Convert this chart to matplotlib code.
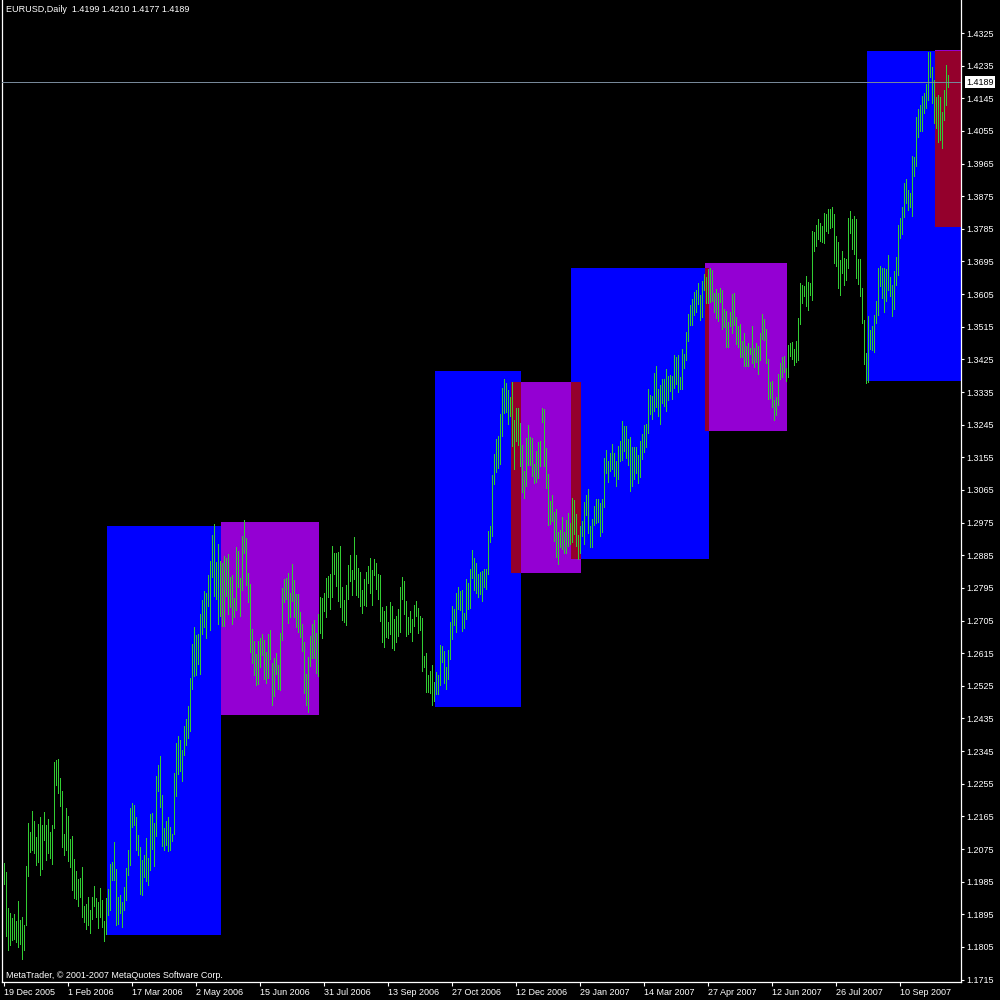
import numpy as np
import matplotlib
matplotlib.use('Agg')
import matplotlib.pyplot as plt
from matplotlib.patches import Rectangle
from matplotlib.transforms import blended_transform_factory

plt.rcParams['font.family'] = ['Liberation Sans', 'DejaVu Sans']

title = 'EURUSD,Daily  1.4199 1.4210 1.4177 1.4189'
copyright_text = 'MetaTrader, © 2001-2007 MetaQuotes Software Corp.'
last_price = 1.4189

# daily highs / lows, one per bar
highs = [
    1.2036, 1.2012, 1.1913, 1.1899, 1.1885, 1.1896, 1.1877, 1.1932, 1.1880, 1.1888,
    1.1866, 1.2029, 1.2147, 1.2122, 1.2180, 1.2153, 1.2109, 1.2144, 1.2164, 1.2142,
    1.2177, 1.2142, 1.2158, 1.2122, 1.2142, 1.2315, 1.2321, 1.2324, 1.2271, 1.2235,
    1.2117, 1.2189, 1.2166, 1.2103, 1.2111, 1.2048, 1.2015, 1.1993, 1.1996, 1.2026,
    1.1918, 1.1924, 1.1943, 1.1907, 1.1943, 1.1973, 1.1940, 1.1929, 1.1968, 1.1935,
    1.1877, 1.1940, 1.1965, 1.2034, 1.2040, 1.2095, 1.2020, 1.1943, 1.1949, 1.1929,
    1.1971, 1.2023, 1.2073, 1.2189, 1.2202, 1.2197, 1.2164, 1.2114, 1.2081, 1.2045,
    1.2059, 1.2106, 1.2051, 1.2172, 1.2175, 1.2147, 1.2277, 1.2307, 1.2332, 1.2224,
    1.2133, 1.2153, 1.2164, 1.2136, 1.2117, 1.2285, 1.2368, 1.2387, 1.2376, 1.2348,
    1.2415, 1.2434, 1.2470, 1.2547, 1.2641, 1.2688, 1.2665, 1.2668, 1.2723, 1.2762,
    1.2787, 1.2781, 1.2831, 1.2869, 1.2941, 1.2971, 1.2866, 1.2916, 1.2869, 1.2864,
    1.2883, 1.2878, 1.2889, 1.2825, 1.2831, 1.2767, 1.2908, 1.2897, 1.2823, 1.2938,
    1.2982, 1.2933, 1.2836, 1.2806, 1.2682, 1.2649, 1.2613, 1.2649, 1.2657, 1.2668,
    1.2652, 1.2618, 1.2668, 1.2679, 1.2588, 1.2602, 1.2616, 1.2583, 1.2671, 1.2795,
    1.2820, 1.2823, 1.2836, 1.2781, 1.2861, 1.2817, 1.2778, 1.2778, 1.2729, 1.2696,
    1.2646, 1.2558, 1.2605, 1.2663, 1.2696, 1.2707, 1.2671, 1.2723, 1.2770, 1.2767,
    1.2781, 1.2823, 1.2828, 1.2834, 1.2911, 1.2891, 1.2891, 1.2894, 1.2911, 1.2798,
    1.2762, 1.2803, 1.2858, 1.2886, 1.2845, 1.2935, 1.2886, 1.2850, 1.2839, 1.2789,
    1.2820, 1.2839, 1.2856, 1.2878, 1.2845, 1.2875, 1.2864, 1.2834, 1.2831, 1.2742,
    1.2731, 1.2745, 1.2701, 1.2756, 1.2745, 1.2710, 1.2718, 1.2737, 1.2798, 1.2825,
    1.2814, 1.2759, 1.2715, 1.2731, 1.2710, 1.2748, 1.2759, 1.2740, 1.2718, 1.2712,
    1.2607, 1.2616, 1.2555, 1.2566, 1.2583, 1.2536, 1.2563, 1.2555, 1.2638, 1.2635,
    1.2621, 1.2577, 1.2624, 1.2701, 1.2745, 1.2737, 1.2781, 1.2798, 1.2787, 1.2789,
    1.2726, 1.2820, 1.2809, 1.2847, 1.2900, 1.2878, 1.2864, 1.2834, 1.2839, 1.2842,
    1.2847, 1.2847, 1.2952, 1.2966, 1.3107, 1.3164, 1.3206, 1.3214, 1.3275, 1.3346,
    1.3371, 1.3360, 1.3341, 1.3322, 1.3363, 1.3258, 1.3291, 1.3291, 1.3250, 1.3189,
    1.3117, 1.3208, 1.3244, 1.3211, 1.3208, 1.3137, 1.3173, 1.3197, 1.3200, 1.3291,
    1.3288, 1.3181, 1.3109, 1.3035, 1.3051, 1.3005, 1.3013, 1.2950, 1.2955, 1.2991,
    1.2950, 1.2982, 1.3002, 1.2974, 1.3043, 1.3038, 1.2999, 1.2941, 1.2966, 1.2980,
    1.3032, 1.3051, 1.3068, 1.2966, 1.2985, 1.3021, 1.3040, 1.3040, 1.3029, 1.3040,
    1.3153, 1.3175, 1.3145, 1.3167, 1.3192, 1.3167, 1.3145, 1.3186, 1.3200, 1.3255,
    1.3242, 1.3242, 1.3206, 1.3211, 1.3184, 1.3184, 1.3184, 1.3162, 1.3200, 1.3220,
    1.3245, 1.3247, 1.3344, 1.3327, 1.3324, 1.3388, 1.3407, 1.3344, 1.3355, 1.3371,
    1.3371, 1.3399, 1.3380, 1.3382, 1.3380, 1.3437, 1.3432, 1.3437, 1.3377, 1.3454,
    1.3440, 1.3501, 1.3550, 1.3575, 1.3591, 1.3611, 1.3617, 1.3636, 1.3603, 1.3641,
    1.3661, 1.3652, 1.3674, 1.3677, 1.3672, 1.3608, 1.3619, 1.3608, 1.3622, 1.3617,
    1.3564, 1.3559, 1.3528, 1.3556, 1.3605, 1.3608, 1.3542, 1.3517, 1.3523, 1.3476,
    1.3498, 1.3462, 1.3470, 1.3457, 1.3517, 1.3457, 1.3470, 1.3462, 1.3498, 1.3550,
    1.3536, 1.3509, 1.3426, 1.3363, 1.3366, 1.3313, 1.3321, 1.3385, 1.3415, 1.3432,
    1.3435, 1.3401, 1.3465, 1.3470, 1.3473, 1.3454, 1.3476, 1.3540, 1.3636, 1.3630,
    1.3627, 1.3655, 1.3638, 1.3636, 1.3779, 1.3776, 1.3796, 1.3812, 1.3801, 1.3793,
    1.3829, 1.3826, 1.3840, 1.3840, 1.3845, 1.3826, 1.3765, 1.3749, 1.3699, 1.3724,
    1.3705, 1.3702, 1.3815, 1.3834, 1.3812, 1.3821, 1.3812, 1.3702, 1.3702, 1.3622,
    1.3534, 1.3443, 1.3545, 1.3506, 1.3517, 1.3548, 1.3586, 1.3677, 1.3683, 1.3677,
    1.3677, 1.3675, 1.3713, 1.3653, 1.3630, 1.3669, 1.3708, 1.3796, 1.3815, 1.3845,
    1.3912, 1.3923, 1.3892, 1.3884, 1.3986, 1.3983, 1.4094, 1.4116, 1.4127, 1.4152,
    1.4160, 1.4185, 1.4273, 1.4273, 1.4232, 1.4196, 1.4149, 1.4154, 1.4149, 1.4107,
    1.4168, 1.4237, 1.4210,
]
lows = [
    1.1979, 1.1836, 1.1797, 1.1811, 1.1825, 1.1827, 1.1819, 1.1805, 1.1814, 1.1772,
    1.1797, 1.1866, 1.2001, 1.2067, 1.2073, 1.2064, 1.2031, 1.2040, 1.2004, 1.2020,
    1.2100, 1.2045, 1.2064, 1.2051, 1.2034, 1.2133, 1.2252, 1.2230, 1.2194, 1.2081,
    1.2059, 1.2073, 1.2042, 1.2026, 1.1962, 1.1940, 1.1938, 1.1918, 1.1943, 1.1888,
    1.1874, 1.1855, 1.1866, 1.1844, 1.1882, 1.1918, 1.1888, 1.1858, 1.1888, 1.1860,
    1.1822, 1.1841, 1.1894, 1.1907, 1.1990, 1.1990, 1.1866, 1.1869, 1.1899, 1.1860,
    1.1907, 1.1935, 1.2004, 1.2031, 1.2136, 1.2142, 1.2073, 1.2059, 1.1951, 1.1949,
    1.1998, 1.1987, 1.1976, 1.2018, 1.2075, 1.2029, 1.2111, 1.2235, 1.2191, 1.2084,
    1.2073, 1.2086, 1.2070, 1.2073, 1.2098, 1.2117, 1.2221, 1.2282, 1.2290, 1.2263,
    1.2335, 1.2362, 1.2381, 1.2401, 1.2517, 1.2552, 1.2555, 1.2585, 1.2558, 1.2668,
    1.2688, 1.2657, 1.2745, 1.2679, 1.2825, 1.2773, 1.2765, 1.2695, 1.2718, 1.2690,
    1.2690, 1.2773, 1.2723, 1.2742, 1.2695, 1.2715, 1.2734, 1.2798, 1.2718, 1.2789,
    1.2891, 1.2803, 1.2756, 1.2618, 1.2588, 1.2555, 1.2527, 1.2530, 1.2577, 1.2610,
    1.2544, 1.2533, 1.2547, 1.2599, 1.2472, 1.2497, 1.2558, 1.2516, 1.2514, 1.2652,
    1.2756, 1.2765, 1.2699, 1.2715, 1.2759, 1.2715, 1.2688, 1.2674, 1.2660, 1.2621,
    1.2505, 1.2472, 1.2453, 1.2580, 1.2602, 1.2602, 1.2561, 1.2552, 1.2671, 1.2657,
    1.2731, 1.2715, 1.2770, 1.2737, 1.2770, 1.2834, 1.2800, 1.2759, 1.2742, 1.2707,
    1.2701, 1.2693, 1.2765, 1.2814, 1.2776, 1.2820, 1.2776, 1.2770, 1.2745, 1.2726,
    1.2748, 1.2745, 1.2809, 1.2781, 1.2748, 1.2831, 1.2792, 1.2765, 1.2704, 1.2646,
    1.2632, 1.2660, 1.2657, 1.2668, 1.2630, 1.2624, 1.2646, 1.2663, 1.2674, 1.2765,
    1.2723, 1.2663, 1.2668, 1.2674, 1.2649, 1.2690, 1.2718, 1.2671, 1.2679, 1.2566,
    1.2577, 1.2508, 1.2508, 1.2505, 1.2472, 1.2483, 1.2503, 1.2503, 1.2527, 1.2591,
    1.2533, 1.2516, 1.2544, 1.2599, 1.2654, 1.2693, 1.2674, 1.2737, 1.2734, 1.2677,
    1.2685, 1.2710, 1.2737, 1.2740, 1.2823, 1.2789, 1.2781, 1.2770, 1.2778, 1.2759,
    1.2798, 1.2792, 1.2834, 1.2922, 1.2938, 1.3082, 1.3115, 1.3126, 1.3137, 1.3214,
    1.3277, 1.3280, 1.3247, 1.3269, 1.3186, 1.3123, 1.3200, 1.3189, 1.3131, 1.3060,
    1.3043, 1.3076, 1.3134, 1.3134, 1.3104, 1.3084, 1.3087, 1.3098, 1.3131, 1.3253,
    1.3131, 1.3071, 1.2969, 1.2972, 1.2980, 1.2925, 1.2881, 1.2861, 1.2908, 1.2903,
    1.2891, 1.2891, 1.2911, 1.2916, 1.2922, 1.2944, 1.2911, 1.2875, 1.2891, 1.2938,
    1.2916, 1.2996, 1.2947, 1.2908, 1.2908, 1.2969, 1.2974, 1.2977, 1.2938, 1.2950,
    1.3018, 1.3112, 1.3087, 1.3117, 1.3123, 1.3104, 1.3076, 1.3095, 1.3145, 1.3148,
    1.3173, 1.3154, 1.3134, 1.3063, 1.3076, 1.3096, 1.3112, 1.3085, 1.3101, 1.3151,
    1.3170, 1.3184, 1.3222, 1.3275, 1.3261, 1.3283, 1.3294, 1.3269, 1.3247, 1.3305,
    1.3297, 1.3283, 1.3313, 1.3338, 1.3316, 1.3346, 1.3357, 1.3335, 1.3344, 1.3344,
    1.3401, 1.3423, 1.3476, 1.3520, 1.3520, 1.3548, 1.3556, 1.3578, 1.3534, 1.3542,
    1.3617, 1.3581, 1.3581, 1.3583, 1.3586, 1.3556, 1.3539, 1.3531, 1.3583, 1.3509,
    1.3514, 1.3459, 1.3459, 1.3517, 1.3498, 1.3520, 1.3468, 1.3459, 1.3432, 1.3432,
    1.3407, 1.3407, 1.3407, 1.3440, 1.3415, 1.3404, 1.3418, 1.3385, 1.3423, 1.3481,
    1.3479, 1.3415, 1.3316, 1.3319, 1.3294, 1.3258, 1.3272, 1.3300, 1.3371, 1.3377,
    1.3390, 1.3366, 1.3377, 1.3435, 1.3426, 1.3410, 1.3418, 1.3423, 1.3523, 1.3580,
    1.3600, 1.3572, 1.3561, 1.3603, 1.3589, 1.3724, 1.3738, 1.3757, 1.3751, 1.3749,
    1.3746, 1.3779, 1.3774, 1.3788, 1.3790, 1.3691, 1.3683, 1.3622, 1.3603, 1.3664,
    1.3630, 1.3644, 1.3677, 1.3774, 1.3730, 1.3716, 1.3650, 1.3633, 1.3600, 1.3526,
    1.3413, 1.3360, 1.3363, 1.3454, 1.3451, 1.3446, 1.3526, 1.3548, 1.3627, 1.3595,
    1.3556, 1.3586, 1.3617, 1.3600, 1.3545, 1.3564, 1.3630, 1.3658, 1.3760, 1.3771,
    1.3818, 1.3857, 1.3837, 1.3845, 1.3821, 1.3931, 1.3959, 1.4039, 1.4055, 1.4055,
    1.4105, 1.4119, 1.4141, 1.4204, 1.4132, 1.4077, 1.4063, 1.4025, 1.4030, 1.4008,
    1.4085, 1.4127, 1.4177,
]

date_labels = ['19 Dec 2005', '1 Feb 2006', '17 Mar 2006', '2 May 2006', '15 Jun 2006',
               '31 Jul 2006', '13 Sep 2006', '27 Oct 2006', '12 Dec 2006', '29 Jan 2007',
               '14 Mar 2007', '27 Apr 2007', '12 Jun 2007', '26 Jul 2007', '10 Sep 2007']
bars_per_label = 32

price_ticks = [1.1715, 1.1805, 1.1895, 1.1985, 1.2075, 1.2165, 1.2255, 1.2345, 1.2435, 1.2525,
               1.2615, 1.2705, 1.2795, 1.2885, 1.2975, 1.3065, 1.3155, 1.3245, 1.3335, 1.3425,
               1.3515, 1.3605, 1.3695, 1.3785, 1.3875, 1.3965, 1.4055, 1.4145, 1.4235, 1.4325]

# boxes: (first bar, last bar, top price, bottom price)
blue_boxes = [(52, 109, 1.2966, 1.1838), (216, 259, 1.3393, 1.2467),
              (284, 353, 1.3677, 1.2875), (432, 490, 1.4275, 1.3366)]
purple_boxes = [(109, 158, 1.2977, 1.2445), (254, 289, 1.3363, 1.2836),
                (351, 392, 1.3691, 1.3228), (466, 490, 1.4278, 1.3790)]

BLUE = 0x0000FF
PURPLE = 0x9400D3


def hexcol(v):
    return '#%06X' % v


fig = plt.figure(figsize=(10, 10), dpi=100, facecolor='black')
ax = fig.add_axes([0.002, 0.018, 0.959, 0.982])
ax.set_facecolor('black')


def draw_box(b, color, z):
    ax.add_patch(Rectangle((b[0] - 0.25, b[3]), b[1] - b[0], b[2] - b[3],
                           facecolor=color, edgecolor='none', antialiased=False, zorder=z))


for b in blue_boxes:
    draw_box(b, hexcol(BLUE), 1)
for b in purple_boxes:
    draw_box(b, hexcol(PURPLE), 1)
# overlapping parts are drawn xor-ed, as the terminal does
for bb in blue_boxes:
    for pb in purple_boxes:
        x0, x1 = max(bb[0], pb[0]), min(bb[1], pb[1])
        top, bot = min(bb[2], pb[2]), max(bb[3], pb[3])
        if x1 > x0 and top > bot:
            draw_box((x0, x1, top, bot), hexcol(BLUE ^ PURPLE), 2)

n = min(len(highs), len(lows))
x = np.arange(n)
ax.vlines(x, lows[:n], highs[:n], colors='#32CD32', linewidth=0.72,
          antialiased=False, zorder=3)

ax.axhline(last_price, color='#778899', linewidth=0.72, antialiased=False, zorder=4)

ax.set_xlim(-0.75, 478.75)
ax.set_ylim(1.17083, 1.44160)

for s in ['left', 'right', 'bottom']:
    ax.spines[s].set_color('white')
    ax.spines[s].set_linewidth(0.9)
ax.spines['top'].set_visible(False)

ax.yaxis.tick_right()
ax.set_yticks(price_ticks)
ax.set_yticklabels(['%.4f' % v for v in price_ticks])
ax.set_xticks(np.arange(len(date_labels)) * bars_per_label)
ax.set_xticklabels(date_labels, ha='left')
ax.tick_params(axis='y', colors='white', length=2.5, width=0.8, pad=1.5, labelsize=6.5)
ax.tick_params(axis='x', colors='white', length=3, width=0.8, pad=1.2, labelsize=6.5)

blend = blended_transform_factory(ax.transAxes, ax.transData)
ax.text(1.0058, last_price, '%.4f' % last_price, transform=blend, ha='left', va='center',
        color='black', fontsize=6.5, clip_on=False, zorder=10,
        bbox=dict(boxstyle='square,pad=0.15', facecolor='white', edgecolor='none'))

fig.text(0.006, 0.990, title, color='white', fontsize=6.5, ha='left', va='center')
fig.text(0.006, 0.025, copyright_text, color='white', fontsize=6.5, ha='left', va='center')

fig.savefig('out.png', dpi=100, facecolor='black')
